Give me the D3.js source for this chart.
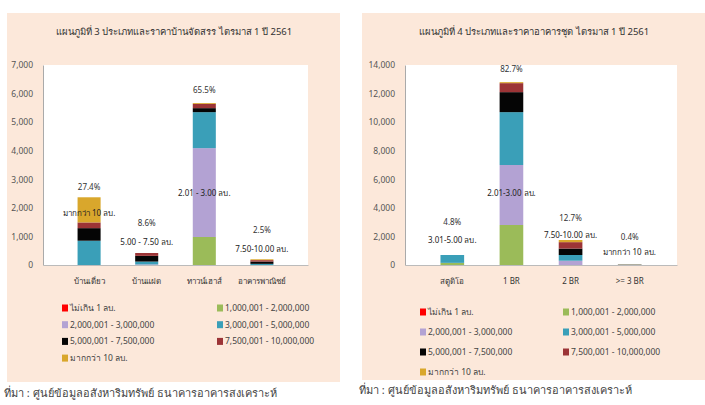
<!DOCTYPE html>
<html>
<head>
<meta charset="utf-8">
<script src="https://cdn.jsdelivr.net/npm/d3@7"></script>
<style>
  body { margin: 0; background: #fff; }
  text { font-family: "Noto Sans", "DejaVu Sans", sans-serif; }
</style>
</head>
<body>
<div class="canvas"></div>
<script>
// price bands (stack order, bottom to top)
const bands = ["ไม่เกิน 1 ลบ.", "1,000,001 - 2,000,000", "2,000,001 - 3,000,000",
  "3,000,001 - 5,000,000", "5,000,001 - 7,500,000", "7,500,001 - 10,000,000", "มากกว่า 10 ลบ."];
const bandColors = ["#ff0000", "#9bbb59", "#b3a2d3", "#3a9fb8", "#050505", "#9c3436", "#d9a72c"];

// chart 3 : housing projects
const leftTitle = "แผนภูมิที่ 3 ประเภทและราคาบ้านจัดสรร ไตรมาส 1 ปี 2561";
const leftCats = ["บ้านเดี่ยว", "บ้านแฝด", "ทาวน์เฮาส์", "อาคารพาณิชย์"];
const leftValues = [
  [0, 0, 0, 850, 440, 200, 880],
  [0, 0, 20, 100, 200, 100, 0],
  [0, 980, 3110, 1260, 140, 150, 30],
  [0, 0, 0, 40, 80, 50, 30]
];
const leftPct = ["27.4%", "8.6%", "65.5%", "2.5%"];
const leftPctAt = [2730, 1470, 6120, 1220];
const leftNote = ["มากกว่า 10 ลบ.", "5.00 - 7.50 ลบ.", "2.01 - 3.00 ลบ.", "7.50-10.00 ลบ."];
const leftNoteAt = [1820, 800, 2520, 560];
const leftTicks = [0, 1000, 2000, 3000, 4000, 5000, 6000, 7000];

// chart 4 : condominiums
const rightTitle = "แผนภูมิที่ 4 ประเภทและราคาอาคารชุด ไตรมาส 1 ปี 2561";
const rightCats = ["สตูดิโอ", "1 BR", "2 BR", ">= 3 BR"];
const rightValues = [
  [0, 150, 0, 550, 0, 0, 0],
  [0, 2800, 4200, 3700, 1400, 630, 70],
  [0, 0, 300, 400, 450, 450, 150],
  [0, 0, 0, 20, 10, 10, 10]
];
const rightPct = ["4.8%", "82.7%", "12.7%", "0.4%"];
const rightPctAt = [3000, 13700, 3290, 1960];
const rightNote = ["3.01-5.00 ลบ.", "2.01-3.00 ลบ.", "7.50-10.00 ลบ.", "มากกว่า 10 ลบ."];
const rightNoteAt = [1750, 5040, 2100, 910];
const rightTicks = [0, 2000, 4000, 6000, 8000, 10000, 12000, 14000];

const source = "ที่มา : ศูนย์ข้อมูลอสังหาริมทรัพย์ ธนาคารอาคารสงเคราะห์";

const svg = d3.select(".canvas").append("svg").attr("width", 705).attr("height", 405);

const drawPanel = (cfg) => {
  const g = svg.append("g");

  // beige card
  g.append("rect")
    .attr("x", cfg.box.x).attr("y", cfg.box.y)
    .attr("width", cfg.box.w).attr("height", cfg.box.h)
    .attr("fill", "#fce8da");

  g.append("text")
    .attr("x", cfg.box.x + cfg.titleX).attr("y", 35)
    .attr("text-anchor", "middle").attr("font-size", 9.5).attr("fill", "#333")
    .text(cfg.title);

  const x = d3.scaleBand().domain(cfg.cats).range([cfg.plot.x0, cfg.plot.x1]).padding(0.6);
  const y = d3.scaleLinear().domain([0, d3.max(cfg.ticks)]).range([265, 65]);

  // white plot area
  g.append("rect")
    .attr("x", cfg.plot.x0).attr("y", 65)
    .attr("width", cfg.plot.x1 - cfg.plot.x0).attr("height", 200)
    .attr("fill", "#fff");

  // stacked bars
  const rows = cfg.cats.map((c, i) => {
    const r = { cat: c };
    bands.forEach((b, j) => (r[b] = cfg.values[i][j]));
    return r;
  });
  const series = d3.stack().keys(bands)(rows);
  g.selectAll("g.layer")
    .data(series)
    .join("g")
    .attr("class", "layer")
    .attr("fill", (d, i) => bandColors[i])
    .selectAll("rect")
    .data((d) => d)
    .join("rect")
    .attr("x", (d) => x(d.data.cat))
    .attr("width", x.bandwidth())
    .attr("y", (d) => y(d[1]))
    .attr("height", (d) => y(d[0]) - y(d[1]));

  // axes
  const yAxis = g.append("g")
    .attr("transform", `translate(${cfg.plot.x0},0)`)
    .call(d3.axisLeft(y).tickValues(cfg.ticks).tickFormat(d3.format(",")).tickSize(0).tickPadding(10));
  yAxis.select(".domain").attr("stroke", "#aaa");
  yAxis.selectAll("text").attr("font-size", 8.5).attr("fill", "#555");

  const xAxis = g.append("g")
    .attr("transform", "translate(0,265)")
    .call(d3.axisBottom(x).tickSize(0).tickPadding(13));
  xAxis.select(".domain").attr("stroke", "#bbb");
  xAxis.selectAll("text").attr("font-size", 8).attr("fill", "#333");

  // annotations
  const cx = (c) => x(c) + x.bandwidth() / 2;
  g.selectAll("text.pct")
    .data(cfg.cats)
    .join("text")
    .attr("class", "pct")
    .attr("x", cx).attr("y", (d, i) => y(cfg.pctAt[i]))
    .attr("dy", "0.35em").attr("text-anchor", "middle")
    .attr("font-size", 8).attr("fill", "#333")
    .text((d, i) => cfg.pct[i]);
  g.selectAll("text.note")
    .data(cfg.cats)
    .join("text")
    .attr("class", "note")
    .attr("x", cx).attr("y", (d, i) => y(cfg.noteAt[i]))
    .attr("dy", "0.35em").attr("text-anchor", "middle")
    .attr("font-size", 8).attr("fill", "#222")
    .text((d, i) => cfg.note[i]);

  // legend, two columns
  const leg = g.selectAll("g.leg")
    .data(bands)
    .join("g")
    .attr("class", "leg")
    .attr("transform", (d, i) =>
      `translate(${cfg.leg.x + (i % 2) * cfg.leg.colGap},${cfg.leg.y + Math.floor(i / 2) * cfg.leg.rowGap})`);
  leg.append("rect")
    .attr("x", 0).attr("y", -3.5).attr("width", 6).attr("height", 7)
    .attr("fill", (d, i) => bandColors[i]);
  leg.append("text")
    .attr("x", 8).attr("dy", "0.35em")
    .attr("font-size", 8.5).attr("fill", "#444")
    .text((d) => d);

  g.append("text")
    .attr("x", cfg.box.x - 3).attr("y", cfg.sourceY)
    .attr("dy", "0.35em").attr("font-size", 11).attr("fill", "#444")
    .text(source);
};

drawPanel({
  box: { x: 7, y: 13, w: 333, h: 369 },
  titleX: 167,
  title: leftTitle,
  plot: { x0: 43, x1: 308 },
  cats: leftCats, values: leftValues, ticks: leftTicks,
  pct: leftPct, pctAt: leftPctAt, note: leftNote, noteAt: leftNoteAt,
  leg: { x: 62, y: 308, colGap: 155, rowGap: 16.7 },
  sourceY: 393
});

drawPanel({
  box: { x: 362, y: 13, w: 343, h: 367 },
  titleX: 172,
  title: rightTitle,
  plot: { x0: 405, x1: 677 },
  cats: rightCats, values: rightValues, ticks: rightTicks,
  pct: rightPct, pctAt: rightPctAt, note: rightNote, noteAt: rightNoteAt,
  leg: { x: 420, y: 312, colGap: 143, rowGap: 20 },
  sourceY: 390
});
</script>
</body>
</html>
